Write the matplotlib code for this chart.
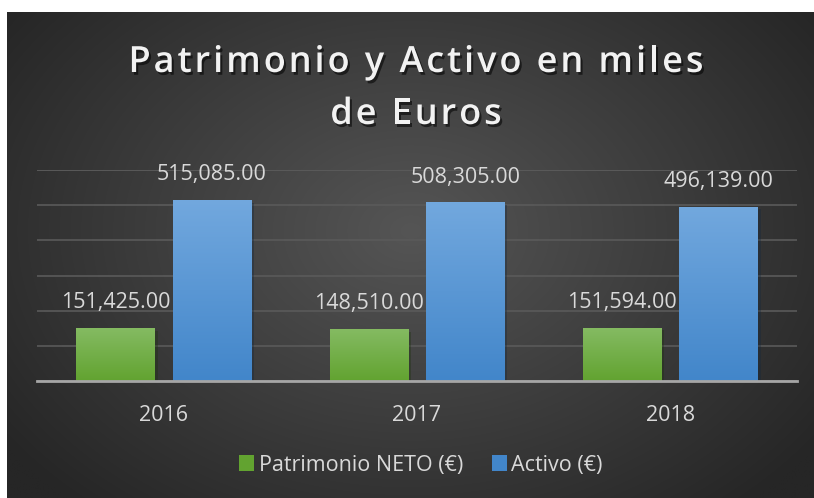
import numpy as np
import matplotlib
matplotlib.use("Agg")
import matplotlib.pyplot as plt
import matplotlib.patheffects as pe
from matplotlib.patches import Patch
from matplotlib.font_manager import FontProperties

years = ["2016", "2017", "2018"]
patrimonio = [151425.00, 148510.00, 151594.00]
activo = [515085.00, 508305.00, 496139.00]
series_names = ["Patrimonio NETO (€)", "Activo (€)"]
title_lines = ["Patrimonio y Activo en miles", "de Euros"]

FONT = "Open Sans"
TXT = "#d9d9d9"
W, H = 814, 498
fig = plt.figure(figsize=(W / 100, H / 100), dpi=100, facecolor="white")

# background panel with radial gradient
bg = fig.add_axes([7 / W, 0, (W - 7) / W, (H - 12) / H])
bg.set_axis_off()
ny, nx = 300, 500
yy, xx = np.mgrid[0:ny, 0:nx]
cx, cy = nx * 0.5, ny * 0.45
r = np.sqrt(((xx - cx) / (nx * 0.62)) ** 2 + ((yy - cy) / (ny * 0.75)) ** 2)
r = np.clip(r, 0, 1)
c_in = np.array([0x55, 0x55, 0x55]) / 255
c_out = np.array([0x26, 0x26, 0x26]) / 255
img = c_in[None, None, :] * (1 - r[..., None]) + c_out[None, None, :] * r[..., None]
bg.imshow(img, aspect="auto", extent=[0, 1, 0, 1], interpolation="bilinear")
bg.set_xlim(0, 1)
bg.set_ylim(0, 1)

ax = fig.add_axes([37 / W, 1 - 381 / H, (797 - 37) / W, (381 - 170) / H])
ax.patch.set_alpha(0)
x = np.arange(len(years))
bw = 0.31
off = 0.19


def grad_bars(xpos, vals, ctop, cbot):
    bars = ax.bar(xpos, vals, bw, color=cbot, zorder=3,
                  path_effects=[pe.SimplePatchShadow(offset=(2, -2), alpha=0.35), pe.Normal()])
    for b in bars:
        x0, y0 = b.get_x(), b.get_y()
        w, h = b.get_width(), b.get_height()
        g = np.linspace(0, 1, 100)[:, None, None]
        im = np.array(ctop)[None, None, :] * (1 - g) + np.array(cbot)[None, None, :] * g
        imh = ax.imshow(im, extent=[x0, x0 + w, y0, y0 + h], aspect="auto", zorder=4,
                        interpolation="bilinear")
        imh.set_clip_path(b)
    return bars


gtop = np.array([0x85, 0xbb, 0x63]) / 255
gbot = np.array([0x62, 0xa3, 0x30]) / 255
btop = np.array([0x72, 0xa8, 0xde]) / 255
bbot = np.array([0x42, 0x86, 0xca]) / 255
grad_bars(x - off, patrimonio, gtop, gbot)
grad_bars(x + off, activo, btop, bbot)

for xi, v in zip(x - off, patrimonio):
    ax.annotate(f"{v:,.2f}", (xi, v), xytext=(0, 25), textcoords="offset pixels",
                ha="center", va="center", color=TXT, fontsize=15.5, family=FONT, zorder=6)
for xi, v in zip(x + off, activo):
    ax.annotate(f"{v:,.2f}", (xi, v), xytext=(0, 25), textcoords="offset pixels",
                ha="center", va="center", color=TXT, fontsize=15.5, family=FONT, zorder=6)

ax.set_xlim(-0.5, 2.5)
ax.set_ylim(0, 600000)
ax.set_yticks(np.arange(0, 600001, 100000))
ax.yaxis.grid(True, color="#5a5a5a", linewidth=1.2, zorder=0)
ax.set_axisbelow(True)
ax.tick_params(axis="y", left=False, labelleft=False)
ax.tick_params(axis="x", bottom=False, pad=14, colors=TXT, labelsize=15.5)
ax.set_xticks(x)
ax.set_xticklabels(years, family=FONT)
for s in ["top", "right", "left"]:
    ax.spines[s].set_visible(False)
ax.spines["bottom"].set_color("#a6a6a6")
ax.spines["bottom"].set_linewidth(2)
ax.spines["bottom"].set_zorder(7)
ax.axhline(600000, color="#5a5a5a", linewidth=1.2, zorder=0)

# title with letter spacing (tracking), drawn character by character
renderer = fig.canvas.get_renderer()
tfp = FontProperties(family=FONT, weight=600, size=26)
shadow = [pe.withSimplePatchShadow(offset=(1.5, -2), shadow_rgbFace="black", alpha=0.55)]
target_w = 575.0
line0 = title_lines[0]
widths0 = [renderer.get_text_width_height_descent(c, tfp, ismath=False)[0] for c in line0]
track = (target_w - sum(widths0)) / (len(line0) - 1)
centre_x = 416.0
baselines = [72.0, 124.0]
for line, base in zip(title_lines, baselines):
    ws = [renderer.get_text_width_height_descent(c, tfp, ismath=False)[0] for c in line]
    total = sum(ws) + track * (len(line) - 1)
    xpos = centre_x - total / 2
    for c, w in zip(line, ws):
        if c != " ":
            fig.text(xpos / W, 1 - base / H, c, ha="left", va="baseline", color="#f2f2f2",
                     fontproperties=tfp, path_effects=shadow)
        xpos += w + track

handles = [Patch(facecolor=gbot, edgecolor="none"), Patch(facecolor=bbot, edgecolor="none")]
leg = fig.legend(handles, series_names, loc="center", bbox_to_anchor=(421 / W, 1 - 465 / H),
                 ncol=2, frameon=False, prop={"family": FONT, "size": 15.5},
                 handlelength=0.7, handleheight=0.7, handletextpad=0.2, columnspacing=1.35,
                 labelcolor=TXT)

fig.savefig("out.png", dpi=100, facecolor="white")
